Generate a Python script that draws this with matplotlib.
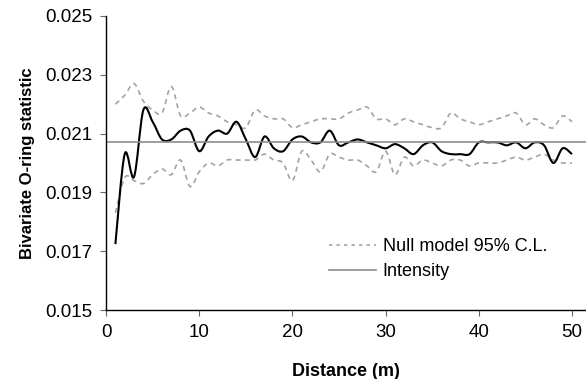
import numpy as np
import matplotlib.pyplot as plt
from matplotlib.path import Path
from matplotlib.patches import PathPatch
from matplotlib.lines import Line2D

plt.rcParams['font.family'] = ['Liberation Sans', 'DejaVu Sans']

# distances (m)
distance = list(range(1, 51))

# observed bivariate O-ring statistic
observed = [0.01724, 0.0203, 0.01953, 0.0218, 0.0214, 0.0208, 0.0208, 0.0211, 0.0211, 0.0204,
            0.0209, 0.0211, 0.0210, 0.0214, 0.0208, 0.0202, 0.0209, 0.0205, 0.0204, 0.0208,
            0.0209, 0.0207, 0.0207, 0.0211, 0.0206, 0.0207, 0.0208, 0.0207, 0.0206, 0.0205,
            0.02064, 0.0205, 0.0203, 0.0206, 0.0207, 0.0204, 0.0203, 0.0203, 0.0203, 0.0207,
            0.0207, 0.0207, 0.0206, 0.0207, 0.0205, 0.0207, 0.0206, 0.0200, 0.0205, 0.0203]

# null model 95% confidence limits
upper = [0.0220, 0.0223, 0.0227, 0.0221, 0.0218, 0.0217, 0.0226, 0.0216, 0.0217, 0.0219,
         0.0217, 0.0216, 0.0214, 0.0213, 0.0212, 0.0218, 0.0216, 0.0215, 0.0215, 0.0212,
         0.0213, 0.0214, 0.0215, 0.0215, 0.0215, 0.0217, 0.0218, 0.0219, 0.0215, 0.0215,
         0.0213, 0.0215, 0.0214, 0.0213, 0.0212, 0.0212, 0.0217, 0.0215, 0.0214, 0.0213,
         0.0214, 0.0215, 0.0216, 0.0217, 0.0213, 0.0215, 0.0213, 0.0212, 0.0216, 0.0214]
lower = [0.0183, 0.0195, 0.0194, 0.0193, 0.0196, 0.0198, 0.0196, 0.0201, 0.0192, 0.0197,
         0.0200, 0.0199, 0.0201, 0.0201, 0.0201, 0.0201, 0.0203, 0.0201, 0.0200, 0.0194,
         0.0204, 0.0201, 0.0197, 0.0203, 0.0202, 0.0201, 0.0201, 0.0199, 0.0197, 0.0204,
         0.0196, 0.0202, 0.0199, 0.0201, 0.0200, 0.0199, 0.0201, 0.0201, 0.0199, 0.0200,
         0.0200, 0.0200, 0.0201, 0.0202, 0.0201, 0.0202, 0.0203, 0.0201, 0.0200, 0.0200]

intensity = 0.0207


def smooth_path(x, y):
    # Excel-like smoothed line: Catmull-Rom segments as cubic Bezier curves
    x = np.asarray(x, float)
    y = np.asarray(y, float)
    pts = np.column_stack([x, y])
    verts = [pts[0]]
    codes = [Path.MOVETO]
    n = len(pts)
    for i in range(n - 1):
        p0 = pts[i - 1] if i > 0 else pts[i]
        p1 = pts[i]
        p2 = pts[i + 1]
        p3 = pts[i + 2] if i + 2 < n else pts[i + 1]
        c1 = p1 + (p2 - p0) / 6
        c2 = p2 - (p3 - p1) / 6
        verts += [c1, c2, p2]
        codes += [Path.CURVE4] * 3
    return Path(verts, codes)


env_color = '#a3a3a3'
int_color = '#8c8c8c'

fig = plt.figure(figsize=(5.86, 3.79), dpi=100)
ax = fig.add_axes([0.181, 0.182, 0.819, 0.776])

ax.axhline(intensity, color=int_color, lw=1.2)
for env in (upper, lower):
    ax.add_patch(PathPatch(smooth_path(distance, env), fill=False, edgecolor=env_color,
                           lw=1.2, linestyle=(0, (3, 2.5))))
ax.add_patch(PathPatch(smooth_path(distance, observed), fill=False, edgecolor='black', lw=1.5))

ax.set_xlim(0, 51.5)
ax.set_ylim(0.015, 0.025)
ax.set_xticks([0, 10, 20, 30, 40, 50])
ax.set_yticks([0.015, 0.017, 0.019, 0.021, 0.023, 0.025])
ax.yaxis.set_major_formatter(plt.FormatStrFormatter('%.3f'))
ax.tick_params(labelsize=13.5, length=4, width=0.8, color='#666666', pad=6)

for s in ('top', 'right'):
    ax.spines[s].set_visible(False)
for s in ('left', 'bottom'):
    ax.spines[s].set_linewidth(1.0)

ax.set_xlabel('Distance (m)', fontsize=13, fontweight='bold', labelpad=16)
ax.set_ylabel('Bivariate O-ring statistic', fontsize=12, fontweight='bold', labelpad=7)

handles = [Line2D([], [], color=env_color, lw=1.2, linestyle=(0, (2, 2.5))),
           Line2D([], [], color=int_color, lw=1.2)]
ax.legend(handles, ['Null model 95% C.L.', 'Intensity'], loc='upper left',
          bbox_to_anchor=(0.43, 0.3), frameon=False, fontsize=13,
          handlelength=2.6, handletextpad=0.4, labelspacing=0.45)

fig.savefig('out.png', dpi=100)
